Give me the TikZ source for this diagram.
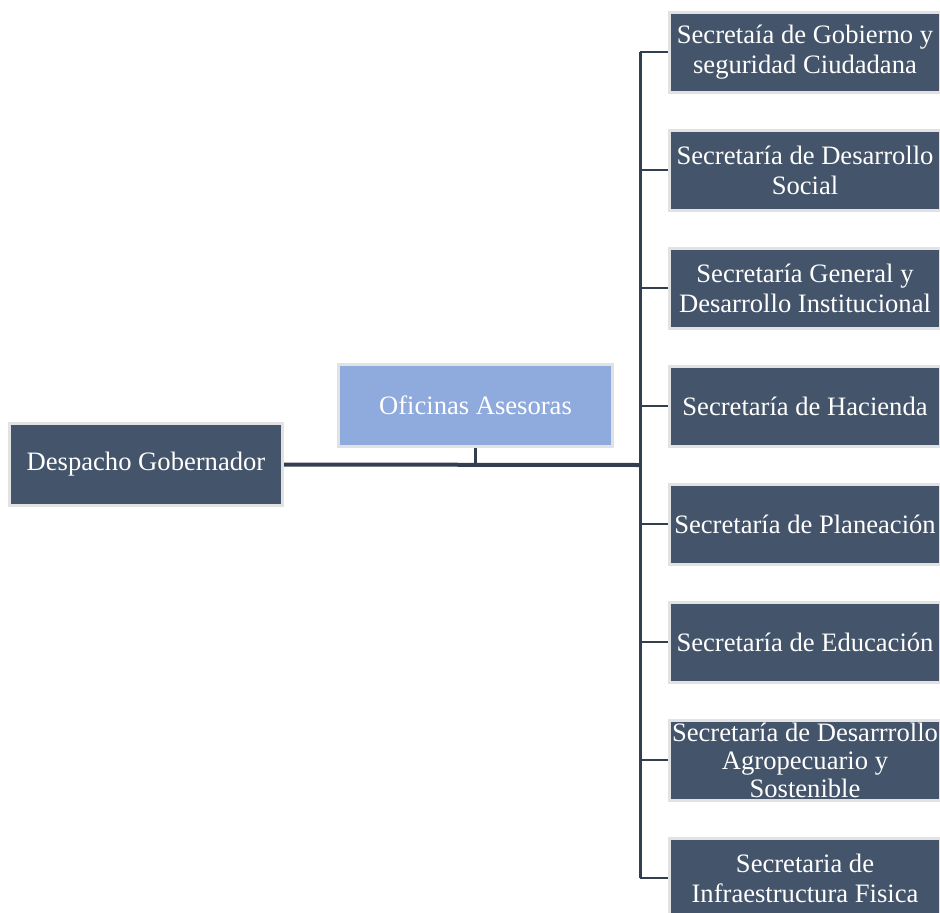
\documentclass[tikz,border=0pt]{standalone}
\usepackage{fontspec}
\setmainfont{Liberation Serif}
\definecolor{boxfill}{HTML}{44546A}
\definecolor{lightfill}{HTML}{8FAADC}
\definecolor{edgegray}{HTML}{E2E2E2}
\definecolor{linec}{HTML}{323F4F}
\begin{document}
\begin{tikzpicture}[x=1pt,y=-1pt,
  box/.style={fill=boxfill, draw=edgegray, line width=3pt, text=white, align=center,
    minimum width=271pt, minimum height=80pt, inner sep=0pt,
    font=\fontsize{26.6}{30}\selectfont},
  conn/.style={draw=linec, line width=2.5pt},
  mainconn/.style={draw=linec, line width=4pt}]
\useasboundingbox (0,0) rectangle (940,913);
\clip (0,0) rectangle (940,913);

\node[box, minimum width=273pt, minimum height=82pt] (desp) at (146,464.5) {Despacho Gobernador};
\node[box, fill=lightfill, minimum width=274pt, minimum height=82pt] (ofi) at (475.5,405.5) {Oficinas Asesoras};

\node[box] (s1) at (805,52) {Secretaía de Gobierno y\\seguridad Ciudadana};
\node[box] (s2) at (805,170) {Secretaría de Desarrollo\\Social};
\node[box] (s3) at (805,288) {Secretaría General y\\Desarrollo Institucional};
\node[box] (s4) at (805,406) {Secretaría de Hacienda};
\node[box] (s5) at (805,524) {Secretaría de Planeación};
\node[box] (s6) at (805,642) {Secretaría de Educación};
\node[box, font=\fontsize{26.6}{28}\selectfont] (s7) at (805,760) {Secretaría de Desarrrollo\\Agropecuario y\\Sostenible};
\node[box] (s8) at (805,878) {Secretaria de\\Infraestructura Fisica};

\coordinate (j) at (640,465);
\draw[mainconn] (desp.east) -- (j);
\draw[conn] (ofi.south) -- (ofi.south |- j);
\draw[draw=linec, line width=3pt] (j |- s1.west) -- (j |- s8.west);
\foreach \s in {s1,s2,s3,s4,s5,s6,s7,s8}{
  \draw[conn] (j |- \s.west) -- (\s.west);
}
\end{tikzpicture}
\end{document}
